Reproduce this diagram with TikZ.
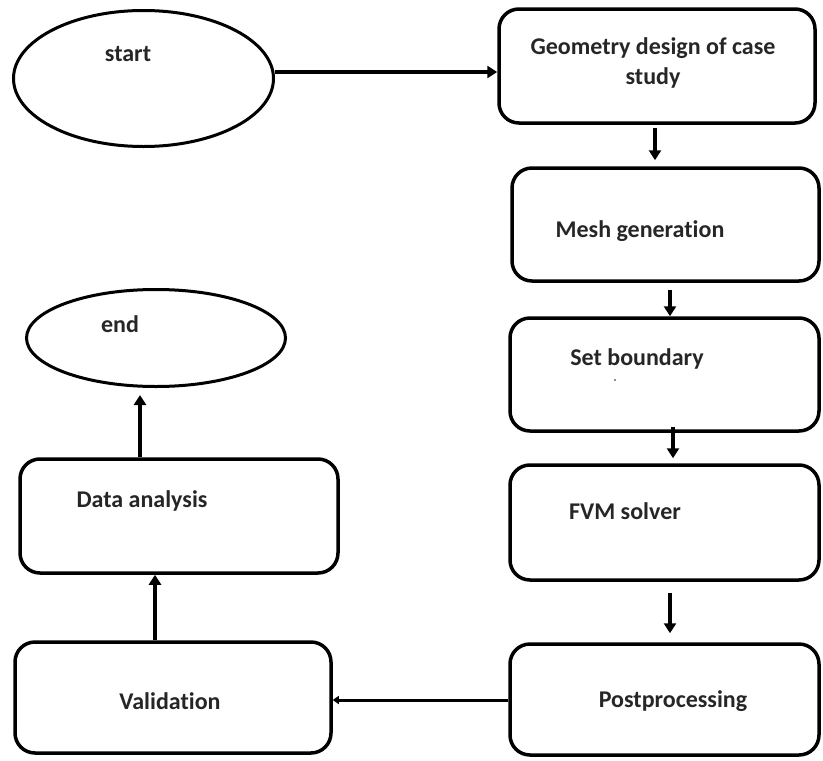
\documentclass[tikz,border=0pt]{standalone}
\usepackage{fontspec}
\setmainfont{Carlito}[Ligatures=NoCommon]
\usetikzlibrary{arrows.meta,shapes.geometric}
\tikzset{
	box/.style={draw,line width=3.5pt,rounded corners=20pt,inner sep=0pt},
	oval/.style={draw,ellipse,line width=3pt,inner sep=0pt},
	lbl/.style={font=\fontsize{24}{30}\selectfont\bfseries,text=black!85,align=center,inner sep=0pt},
	arr/.style={line width=3.5pt,-{Triangle[width=12pt,length=10pt]}}
}
\begin{document}
\begin{tikzpicture}[x=1pt,y=-1pt]
	\useasboundingbox (0,0) rectangle (823,761);
	% Formen
	\node [oval,minimum width=260pt,minimum height=136pt] (start) at (143.5,78.5) {};
	\node [oval,minimum width=259pt,minimum height=97pt] (end) at (156,338) {};
	\node [box,minimum width=316pt,minimum height=114pt] (geo) at (657,66) {};
	\node [box,minimum width=307pt,minimum height=113pt] (mesh) at (665.5,224.5) {};
	\node [box,minimum width=309pt,minimum height=113pt] (bound) at (664.5,374.5) {};
	\node [box,minimum width=309pt,minimum height=115pt] (fvm) at (664.5,522.5) {};
	\node [box,minimum width=309pt,minimum height=111pt] (post) at (664.5,699.5) {};
	\node [box,minimum width=316pt,minimum height=111pt] (valid) at (173,697.5) {};
	\node [box,minimum width=318pt,minimum height=114pt] (data) at (179,516) {};
	% Texte
	\node [lbl] (startlbl) at (128,54) {start};
	\node [lbl] (endlbl) at (120,324) {end};
	\node [lbl] (geolbl) at (653,63) {Geometry design of case\\study};
	\node [lbl] (meshlbl) at (640,231) {Mesh generation};
	\node [lbl] (boundlbl) at (637,359) {Set boundary};
	\node [lbl] (fvmlbl) at (625,511) {FVM solver};
	\node [lbl] (postlbl) at (673,701) {Postprocessing};
	\node [lbl] (validlbl) at (170,701) {Validation};
	\node [lbl] (datalbl) at (142,501) {Data analysis};
	\fill [black!60] (615,380) circle [radius=1.2];
	% Pfeile
	\draw [arr,line width=4.5pt] ([yshift=6.5pt]start.east) -- ([yshift=6.5pt]start.east -| geo.west);
	\draw [arr,shorten <=3pt,shorten >=6pt] ([xshift=-2pt]geo.south) -- ([xshift=-2pt]geo.south |- mesh.north);
	\draw [arr,shorten <=7pt] ([xshift=4.5pt]mesh.south) -- ([xshift=4.5pt]mesh.south |- bound.north);
	\draw [arr,shorten <=-6pt,shorten >=5pt] ([xshift=8.5pt]bound.south) -- ([xshift=8.5pt]bound.south |- fvm.north);
	\draw [arr,shorten <=11pt,shorten >=9pt] ([xshift=5.5pt]fvm.south) -- ([xshift=5.5pt]fvm.south |- post.north);
	\draw [line width=3pt,-{Triangle[width=8pt,length=6pt]}] ([yshift=-0.5pt]post.west) -- ([yshift=-0.5pt]post.west -| valid.east);
	\draw [arr] ([xshift=-18pt]valid.north) -- ([xshift=-18pt]valid.north |- data.south);
	\draw [arr,shorten >=7pt] ([xshift=-39pt]data.north) -- ([xshift=-39pt]data.north |- end.south);
\end{tikzpicture}
\end{document}
